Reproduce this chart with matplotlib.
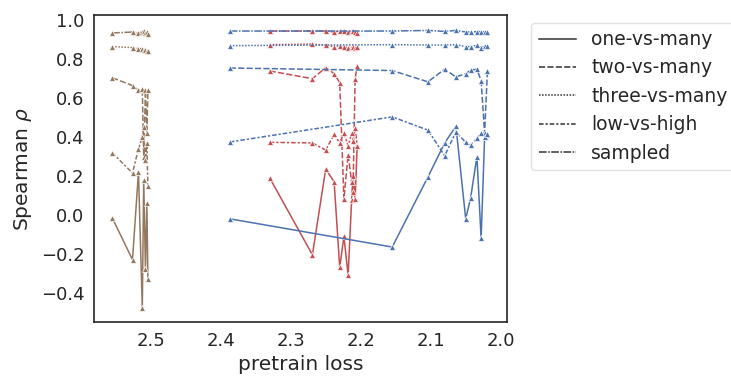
import matplotlib
matplotlib.use("Agg")
import matplotlib.pyplot as plt
from matplotlib.lines import Line2D

# pretrain loss checkpoints for each run
brown_loss = [2.555, 2.526, 2.5175, 2.512, 2.510, 2.5075, 2.5055, 2.504]
red_loss = [2.33, 2.269, 2.25, 2.238, 2.23, 2.224, 2.218, 2.213, 2.211, 2.208, 2.205]
blue_loss = [2.387, 2.155, 2.104, 2.080, 2.064, 2.050, 2.043, 2.034, 2.028, 2.023, 2.019]

metrics = ["one-vs-many", "two-vs-many", "three-vs-many", "low-vs-high", "sampled"]

brown_rho = {
    "one-vs-many": [-0.015, -0.23, 0.22, -0.48, 0.18, -0.28, 0.06, -0.33],
    "two-vs-many": [0.705, 0.665, 0.64, 0.645, 0.30, 0.64, 0.42, 0.64],
    "three-vs-many": [0.865, 0.86, 0.855, 0.855, 0.85, 0.845, 0.84, 0.84],
    "low-vs-high": [0.32, 0.215, 0.34, 0.40, 0.45, 0.28, 0.37, 0.15],
    "sampled": [0.935, 0.94, 0.935, 0.94, 0.945, 0.935, 0.94, 0.93],
}
red_rho = {
    "one-vs-many": [0.19, -0.205, 0.236, 0.17, -0.27, -0.11, -0.31, 0.075, 0.20, 0.08, 0.36],
    "two-vs-many": [0.74, 0.70, 0.757, 0.726, 0.68, 0.08, 0.31, 0.17, 0.12, 0.70, 0.765],
    "three-vs-many": [0.875, 0.878, 0.872, 0.865, 0.87, 0.863, 0.86, 0.862, 0.865, 0.86, 0.865],
    "low-vs-high": [0.373, 0.37, 0.333, 0.414, 0.37, 0.42, 0.354, 0.42, 0.38, 0.445, 0.355],
    "sampled": [0.945, 0.945, 0.945, 0.94, 0.945, 0.945, 0.94, 0.945, 0.945, 0.94, 0.935],
}
blue_rho = {
    "one-vs-many": [-0.02, -0.165, 0.195, 0.37, 0.456, -0.02, 0.087, 0.30, -0.12, 0.40, 0.41],
    "two-vs-many": [0.755, 0.742, 0.684, 0.749, 0.709, 0.726, 0.744, 0.749, 0.69, 0.42, 0.74],
    "three-vs-many": [0.87, 0.875, 0.873, 0.873, 0.875, 0.865, 0.865, 0.872, 0.86, 0.868, 0.87],
    "low-vs-high": [0.375, 0.504, 0.436, 0.304, 0.427, 0.373, 0.359, 0.393, 0.419, 0.40, 0.415],
    "sampled": [0.945, 0.945, 0.948, 0.943, 0.948, 0.94, 0.94, 0.942, 0.942, 0.942, 0.942],
}

# seaborn default dash patterns
dashes = {
    "one-vs-many": "-",
    "two-vs-many": (0, (4, 1.5)),
    "three-vs-many": (0, (1, 1)),
    "low-vs-high": (0, (3, 1.25, 1.5, 1.25)),
    "sampled": (0, (5, 1, 1, 1)),
}

runs = [
    (brown_loss, brown_rho, "#937860"),
    (red_loss, red_rho, "#C44E52"),
    (blue_loss, blue_rho, "#4C72B0"),
]

plt.rcParams["font.family"] = ["DejaVu Sans"]
fig = plt.figure(figsize=(7.31, 3.77), dpi=100)
ax = fig.add_axes([0.1286, 0.146, 0.565, 0.814])

for loss, rho, color in runs:
    for m in metrics:
        ax.plot(loss, rho[m], color=color, linestyle=dashes[m], linewidth=1.1,
                marker="^", markersize=4.5, markeredgewidth=0.5,
                markeredgecolor="white")

ax.set_xlim(2.581, 1.991)
ax.set_ylim(-0.55, 1.027)
ax.set_xticks([2.5, 2.4, 2.3, 2.2, 2.1, 2.0])
ax.set_yticks([-0.4, -0.2, 0.0, 0.2, 0.4, 0.6, 0.8, 1.0])
ax.tick_params(labelsize=13, colors="#262626", length=0, pad=7)
ax.set_xlabel("pretrain loss", fontsize=14.5, color="#262626", labelpad=4)
ax.set_ylabel(r"Spearman $\rho$", fontsize=14.5, color="#262626", labelpad=5)
for sp in ax.spines.values():
    sp.set_color("#262626")
    sp.set_linewidth(1.2)

handles = [Line2D([], [], color="#333333", linestyle=dashes[m], linewidth=1.1)
           for m in metrics]
leg = ax.legend(handles, metrics, loc="upper left", bbox_to_anchor=(1.04, 1.0),
                fontsize=13.5, frameon=True, handlelength=2.0,
                borderaxespad=0.4, labelspacing=0.5)
leg.get_frame().set_edgecolor("#dddddd")
for t in leg.get_texts():
    t.set_color("#262626")

fig.savefig("out.png", dpi=100)
